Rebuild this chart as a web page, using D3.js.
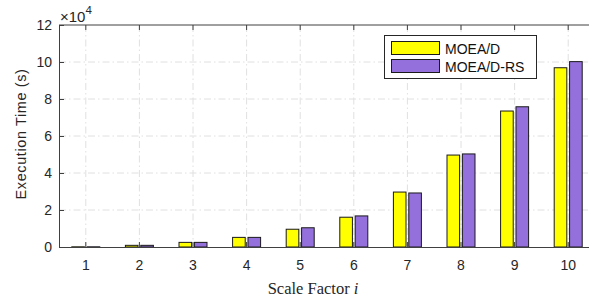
<!DOCTYPE html>
<html>
<head>
<meta charset="utf-8">
<script src="https://cdn.jsdelivr.net/npm/d3@7"></script>
<style>
  body { margin: 0; background: #fff; }
  svg { display: block; }
  .axis text { font-family: "Liberation Sans", Arial, sans-serif; font-size: 14px; fill: #262626; }
  .axis path, .axis line { stroke: #404040; }
</style>
</head>
<body>
<div id="chart"></div>
<script>
// execution time in seconds
let factors = [1, 2, 3, 4, 5, 6, 7, 8, 9, 10];
let moead   = [100, 900, 2500, 5200, 9600, 16100, 29700, 49700, 73500, 96900];
let moeadRS = [100, 900, 2500, 5200, 10400, 16800, 29200, 50300, 75800, 100200];
let seriesNames = ['MOEA/D', 'MOEA/D-RS'];
let yTicks = [0, 2, 4, 6, 8, 10, 12];
let colorMap = {'MOEA/D': '#ffff00', 'MOEA/D-RS': '#9370db'};

let W = 589, H = 301;
let margin = {top: 25, left: 59},
    width = 536,
    height = 222;

let svg = d3.select('#chart').append('svg')
            .attr('width', W)
            .attr('height', H);

let g = svg.append('g')
           .attr('transform', 'translate(' + margin.left + ',' + margin.top + ')');

let x0 = d3.scaleBand()
           .domain(factors)
           .range([0, width])
           .padding(0);
let x1 = d3.scaleBand()
           .domain(seriesNames)
           .range([x0.bandwidth() / 2 - 14, x0.bandwidth() / 2 + 14])
           .paddingInner(0.18);
let y = d3.scaleLinear()
          .domain([0, 12])
          .range([height, 0]);

// grid
let dash = '7,3,1.5,3';
g.append('g').selectAll('line')
 .data(factors).enter().append('line')
  .attr('x1', d => x0(d) + x0.bandwidth() / 2)
  .attr('x2', d => x0(d) + x0.bandwidth() / 2)
  .attr('y1', 0).attr('y2', height)
  .attr('stroke', '#e0e0e0').attr('stroke-dasharray', dash);
g.append('g').selectAll('line')
 .data(yTicks.slice(1, -1)).enter().append('line')
  .attr('x1', 0).attr('x2', width)
  .attr('y1', d => y(d)).attr('y2', d => y(d))
  .attr('stroke', '#e0e0e0').attr('stroke-dasharray', dash);

// bars
let rows = factors.map((f, i) => ({f: f, vals: [
  {name: 'MOEA/D', v: moead[i]},
  {name: 'MOEA/D-RS', v: moeadRS[i]}
]}));

g.append('g').selectAll('g')
 .data(rows).enter().append('g')
  .attr('transform', d => 'translate(' + x0(d.f) + ',0)')
 .selectAll('rect')
 .data(d => d.vals).enter().append('rect')
  .attr('x', d => x1(d.name))
  .attr('width', x1.bandwidth())
  .attr('y', d => y(d.v / 1e4))
  .attr('height', d => height - y(d.v / 1e4))
  .attr('fill', d => colorMap[d.name])
  .attr('stroke', '#1a1a1a')
  .attr('stroke-width', 1);

// axes
g.append('g')
 .attr('class', 'axis')
 .attr('transform', 'translate(0,' + height + ')')
 .call(d3.axisBottom(x0).tickSizeInner(-5).tickSizeOuter(0).tickPadding(13));

g.append('g')
 .attr('class', 'axis')
 .call(d3.axisLeft(y).tickValues(yTicks).tickSizeInner(-5).tickSizeOuter(0).tickPadding(7));

// top box line with inward ticks
let topAxis = g.append('g').attr('class', 'axis');
topAxis.append('line')
   .attr('x1', 0).attr('x2', width).attr('y1', 0).attr('y2', 0);
topAxis.selectAll('.tt')
   .data(factors).enter().append('line')
   .attr('x1', d => x0(d) + x0.bandwidth() / 2)
   .attr('x2', d => x0(d) + x0.bandwidth() / 2)
   .attr('y1', 0).attr('y2', 5);

// exponent
let ex = svg.append('text')
   .attr('x', 60).attr('y', 21.5)
   .attr('font-family', '"Liberation Sans", Arial, sans-serif')
   .attr('font-size', 15)
   .attr('fill', '#262626');
ex.append('tspan').text('\u00d710');
ex.append('tspan').attr('dy', -8).attr('font-size', 11.5).text('4');

// axis labels
svg.append('text')
   .attr('transform', 'translate(26,134) rotate(-90)')
   .attr('text-anchor', 'middle')
   .attr('font-family', '"Liberation Sans", Arial, sans-serif')
   .attr('font-size', 14.5)
   .attr('letter-spacing', 0.6)
   .attr('fill', '#262626')
   .text('Execution Time (s)');

let xl = svg.append('text')
   .attr('x', 313).attr('y', 294)
   .attr('text-anchor', 'middle')
   .attr('font-family', '"Liberation Serif", "Times New Roman", serif')
   .attr('font-size', 16.5)
   .attr('fill', '#262626');
xl.append('tspan').text('Scale Factor ');
xl.append('tspan').attr('font-style', 'italic').text('i');

// legend
let lg = svg.append('g').attr('transform', 'translate(384.5,35.5)');
lg.append('rect')
  .attr('width', 152).attr('height', 43)
  .attr('fill', '#fff').attr('stroke', '#262626').attr('stroke-width', 1);
seriesNames.forEach((s, i) => {
  lg.append('rect')
    .attr('x', 7).attr('y', 6 + i * 18)
    .attr('width', 48).attr('height', 13)
    .attr('fill', colorMap[s]).attr('stroke', '#1a1a1a');
  lg.append('text')
    .attr('x', 60.5).attr('y', 18 + i * 18.5)
    .attr('font-family', '"Liberation Sans", Arial, sans-serif')
    .attr('font-size', 14)
    .attr('fill', '#111')
    .text(s);
});
</script>
</body>
</html>
